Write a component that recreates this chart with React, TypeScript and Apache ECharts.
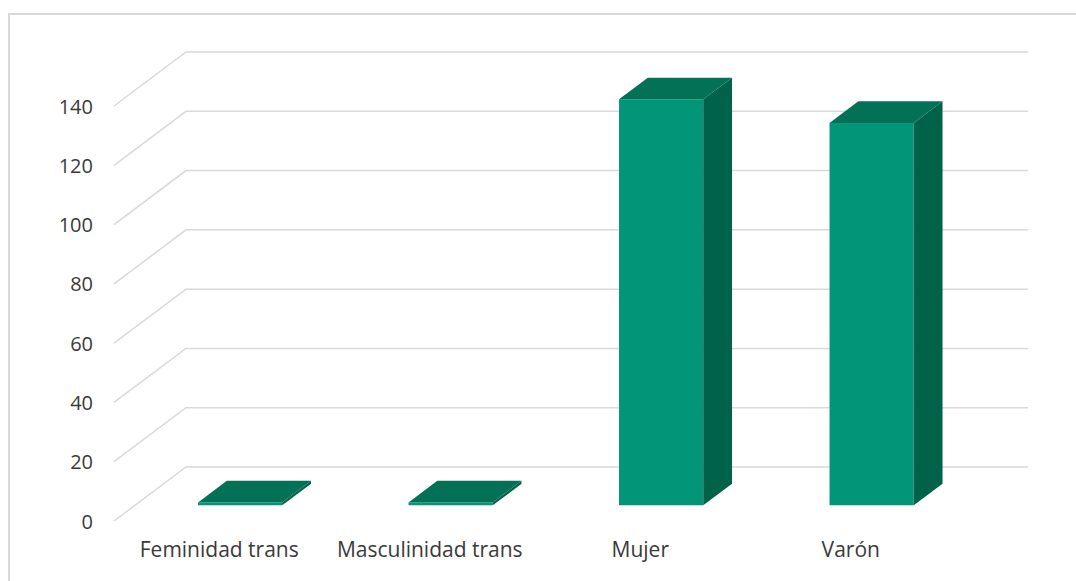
import React, { useEffect, useRef } from "react";
import * as echarts from "echarts";

const categories = ["Feminidad trans", "Masculinidad trans", "Mujer", "Varón"];
const values = [1, 1, 137, 129];
const yTicks = [0, 20, 40, 60, 80, 100, 120, 140];

const DX = 72;
const DY = -54;
const FRONT = 0.29;
const DEPTH = 0.4;

export default function App() {
  const ref = useRef<HTMLDivElement>(null);
  useEffect(() => {
    if (!ref.current) return;
    const chart = echarts.init(ref.current, null, { renderer: "svg" });
    const font = "'Open Sans', sans-serif";
    chart.setOption({
      animation: false,
      backgroundColor: "#ffffff",
      grid: { left: 114, top: 106, width: 842, height: 415 },
      xAxis: {
        type: "category",
        data: categories,
        axisLine: { show: false },
        axisTick: { show: false },
        splitLine: { show: false },
        axisLabel: { color: "#3a3a3a", fontSize: 21, fontFamily: font, margin: 17, interval: 0 },
      },
      yAxis: {
        type: "value",
        min: 0,
        max: 140,
        interval: 20,
        axisLine: { show: false },
        axisTick: { show: false },
        splitLine: { show: false },
        axisLabel: { color: "#3a3a3a", fontSize: 20, fontFamily: font, margin: 21 },
      },
      graphic: [
        {
          type: "rect",
          shape: { x: 9, y: 14, width: 1200, height: 800 },
          style: { fill: "none", stroke: "#d9d9d9", lineWidth: 2 },
          silent: true,
        },
      ],
      series: [
        {
          type: "custom",
          data: yTicks.map((v) => [0, v]),
          encode: { x: 0, y: 1 },
          silent: true,
          z: 1,
          renderItem: (params: any, api: any) => {
            const cs = params.coordSys;
            const y = api.coord([0, api.value(1)])[1];
            const x0 = cs.x;
            return {
              type: "polyline",
              shape: {
                points: [
                  [x0, y],
                  [x0 + DX, y + DY],
                  [x0 + DX + cs.width, y + DY],
                ],
              },
              style: { stroke: "#d9d9d9", lineWidth: 1.5, fill: "none" },
            };
          },
        },
        {
          type: "custom",
          data: values.map((v, i) => [i, v]),
          encode: { x: 0, y: 1 },
          z: 2,
          renderItem: (params: any, api: any) => {
            const i = api.value(0);
            const v = api.value(1);
            const base = api.coord([i, 0]);
            const top = api.coord([i, v]);
            const band = api.size([1, 0])[0];
            const w = band * 0.4;
            const ox = FRONT * DX;
            const oy = FRONT * DY;
            const dx = DEPTH * DX;
            const dy = DEPTH * DY;
            const L = base[0] + ox - w / 2;
            const R = base[0] + ox + w / 2;
            const yb = base[1] + oy;
            const yt = top[1] + oy;
            return {
              type: "group",
              children: [
                {
                  type: "polygon",
                  shape: { points: [[L, yb], [R, yb], [R, yt], [L, yt]] },
                  style: { fill: "#029577" },
                },
                {
                  type: "polygon",
                  shape: { points: [[R, yb], [R + dx, yb + dy], [R + dx, yt + dy], [R, yt]] },
                  style: { fill: "#01624A" },
                },
                {
                  type: "polygon",
                  shape: { points: [[L, yt], [R, yt], [R + dx, yt + dy], [L + dx, yt + dy]] },
                  style: { fill: "#027156" },
                },
              ],
            };
          },
        },
      ],
    });
    return () => chart.dispose();
  }, []);
  return (
    <div
      ref={ref}
      style={{ position: "fixed", left: 0, top: 0, width: 1076, height: 581 }}
    />
  );
}
